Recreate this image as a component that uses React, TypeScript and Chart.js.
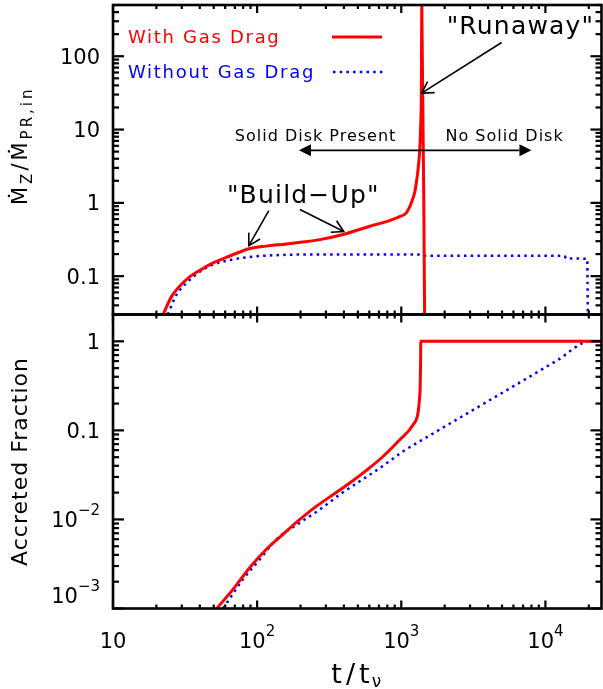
import { useEffect, useRef } from 'react';
import { Chart, registerables } from 'chart.js';
Chart.register(...registerables);

// ---------- data ----------
// Top panel: Mdot_Z / Mdot_PR,in vs t/t_nu
const tGasTop = [22.3, 25.5, 29, 34, 40, 49.5, 61, 75, 89, 116, 160, 200, 272, 395, 604, 800, 975, 1084, 1150, 1195, 1240, 1273, 1306, 1343, 1365, 1378, 1388, 1452];
const mdotGas = [0.03, 0.053, 0.073, 0.098, 0.12, 0.152, 0.18, 0.212, 0.238, 0.257, 0.275, 0.29, 0.315, 0.37, 0.48, 0.56, 0.65, 0.73, 0.9, 1.1, 1.4, 1.9, 2.8, 5.3, 12, 31, 500, 0.03];
const tNoGasTop = [24, 27.6, 32.4, 40, 49.5, 68, 89, 151, 300, 1300, 1450, 13500, 14000, 19500, 19700];
const mdotNoGas = [0.03, 0.056, 0.081, 0.115, 0.144, 0.169, 0.183, 0.195, 0.198, 0.198, 0.19, 0.19, 0.174, 0.172, 0.03];
// Bottom panel: accreted fraction vs t/t_nu
const tGasBot = [52.4, 68.2, 89, 116, 151, 198, 258, 337, 439, 573, 747, 975, 1205, 1305, 1342, 1352, 1362, 1366, 24500];
const fracGas = [0.001, 0.00165, 0.00289, 0.00462, 0.0068, 0.01, 0.0141, 0.019, 0.0257, 0.0356, 0.0509, 0.0783, 0.115, 0.156, 0.239, 0.3, 0.6, 1.0, 1.0];
const tNoGasBot = [58, 66.5, 80, 104.5, 136, 198, 272, 374, 515, 728, 1028, 1530, 3000, 6000, 12000, 20500, 24500];
const fracNoGas = [0.001, 0.00139, 0.00214, 0.00357, 0.00598, 0.0092, 0.0129, 0.019, 0.0268, 0.0388, 0.058, 0.0853, 0.162, 0.313, 0.607, 1.0, 1.0];

// axis ranges
const xRange = [10, 24500];
const topRange = [0.03, 500];
const botRange = [0.001, 2];

// tick labels
const xTickValues = [10, 100, 1000, 10000];
const xTickLabels = [['10', ''], ['10', '2'], ['10', '3'], ['10', '4']];
const topTickValues = [0.1, 1, 10, 100];
const topTickLabels = [['0.1', ''], ['1', ''], ['10', ''], ['100', '']];
const botTickValues = [0.001, 0.01, 0.1, 1];
const botTickLabels = [['10', '\u22123'], ['10', '\u22122'], ['0.1', ''], ['1', '']];

const seriesNames = ['With Gas Drag', 'Without Gas Drag'];

const FONT = "'DejaVu Sans', sans-serif";
const RED = '#ff0000';
const BLUE = '#0000ff';
const DOT = [2.5, 4.2];

const pts = (xs: number[], ys: number[]) => xs.map((x, i) => ({ x, y: ys[i] }));

function setFont(ctx: any, size: number, spacing = 0) {
  ctx.font = `${size}px ${FONT}`;
  ctx.letterSpacing = `${spacing}px`;
}

function logTickList(lo: number, hi: number) {
  const out: number[][] = [];
  let e = Math.floor(Math.log10(lo)) - 1;
  const e1 = Math.ceil(Math.log10(hi)) + 1;
  while (e <= e1) {
    const p = Math.pow(10, e);
    for (let m = 1; m < 10; m++) {
      const v = m * p;
      if (v >= lo * 0.9999 && v <= hi * 1.0001) out.push([v, m === 1 ? 1 : 0]);
    }
    e += 1;
  }
  return out;
}

function openArrow(ctx: any, x1: number, y1: number, x2: number, y2: number) {
  ctx.beginPath();
  ctx.moveTo(x1, y1);
  ctx.lineTo(x2, y2);
  ctx.stroke();
  const ang = Math.atan2(y1 - y2, x1 - x2);
  const H = 13, a = Math.PI / 6;
  ctx.beginPath();
  ctx.moveTo(x2 + H * Math.cos(ang - a), y2 + H * Math.sin(ang - a));
  ctx.lineTo(x2, y2);
  ctx.lineTo(x2 + H * Math.cos(ang + a), y2 + H * Math.sin(ang + a));
  ctx.stroke();
}

function doubleArrow(ctx: any, x1: number, x2: number, y: number) {
  const H = 12, W = 6;
  ctx.beginPath();
  ctx.moveTo(x1 + H, y);
  ctx.lineTo(x2 - H, y);
  ctx.stroke();
  ctx.beginPath();
  ctx.moveTo(x1, y); ctx.lineTo(x1 + H, y - W); ctx.lineTo(x1 + H, y + W); ctx.closePath();
  ctx.fill();
  ctx.beginPath();
  ctx.moveTo(x2, y); ctx.lineTo(x2 - H, y - W); ctx.lineTo(x2 - H, y + W); ctx.closePath();
  ctx.fill();
}

// Inward IDL-style tick marks on all four sides of each panel
const tickPlugin = {
  id: 'idlTicks',
  afterDraw(chart: any) {
    const ctx = chart.ctx;
    const xs = chart.scales.x;
    const left = xs.left, right = xs.right;
    const xt = logTickList(xRange[0], xRange[1]);
    const panels: any[] = [[chart.scales.yTop, topRange], [chart.scales.yBot, botRange]];
    ctx.save();
    ctx.globalAlpha = 1;
    ctx.globalCompositeOperation = 'source-over';
    ctx.fillStyle = '#000000';
    for (let k = 0; k < panels.length; k++) {
      const ys = panels[k][0];
      const rng = panels[k][1];
      for (let i = 0; i < xt.length; i++) {
        const px = xs.getPixelForValue(xt[i][0]);
        const len = xt[i][1] ? 8 : 4;
        ctx.fillRect(px - 1.1, ys.bottom - len, 2.2, len);
        ctx.fillRect(px - 1.1, ys.top, 2.2, len);
      }
      const yl = logTickList(rng[0], rng[1]);
      for (let i = 0; i < yl.length; i++) {
        const py = ys.getPixelForValue(yl[i][0]);
        const len = yl[i][1] ? 11 : 6;
        ctx.fillRect(left, py - 1.1, len, 2.2);
        ctx.fillRect(right - len, py - 1.1, len, 2.2);
      }
    }
    ctx.restore();
  },
};

const decorPlugin = {
  id: 'decor',
  afterDatasetsDraw(chart: any) {
    const ctx = chart.ctx;
    const xs = chart.scales.x, yt = chart.scales.yTop, yb = chart.scales.yBot;
    const L = xs.left, R = xs.right;
    ctx.save();
    ctx.setLineDash([]);
    ctx.strokeStyle = '#000';
    ctx.fillStyle = '#000';

    // frame
    ctx.lineWidth = 2.6;
    ctx.strokeRect(L, yt.top, R - L, yt.bottom - yt.top);
    ctx.strokeRect(L, yb.top, R - L, yb.bottom - yb.top);

    // tick labels
    const drawLabel = (base: string, exp: string, x: number, yc: number, align: string) => {
      setFont(ctx, 21);
      const wb = ctx.measureText(base).width;
      setFont(ctx, 15);
      const we = exp ? ctx.measureText(exp).width : 0;
      const start = align === 'right' ? x - wb - we : x - (wb + we) / 2;
      ctx.textAlign = 'left';
      ctx.textBaseline = 'alphabetic';
      setFont(ctx, 21);
      const bl = yc + 7.6;
      ctx.fillText(base, start, bl);
      if (exp) {
        setFont(ctx, 15);
        ctx.fillText(exp, start + wb, bl - 12);
      }
    };
    topTickValues.forEach((v, i) => drawLabel(topTickLabels[i][0], topTickLabels[i][1], L - 13, yt.getPixelForValue(v), 'right'));
    botTickValues.forEach((v, i) => drawLabel(botTickLabels[i][0], botTickLabels[i][1], L - 13, Math.min(yb.getPixelForValue(v), yb.bottom - 13), 'right'));
    xTickValues.forEach((v, i) => drawLabel(xTickLabels[i][0], xTickLabels[i][1], xs.getPixelForValue(v), yb.bottom + 31.5, 'center'));

    // bottom y title
    ctx.save();
    ctx.translate(27, (yb.top + yb.bottom) / 2);
    ctx.rotate(-Math.PI / 2);
    setFont(ctx, 22, 1);
    ctx.textAlign = 'center';
    ctx.textBaseline = 'alphabetic';
    ctx.fillText('Accreted Fraction', 0, 0);
    ctx.restore();

    // top y title: Mdot_Z / Mdot_PR,in
    ctx.save();
    const pieces: any[] = [
      ['\u1E40', 21, 0, 3], ['Z', 15, 5, 3], ['/', 21, 0, 3], ['\u1E40', 21, 0, 3], ['PR,in', 15, 5, 3],
    ];
    let total = 0;
    const widths = pieces.map((p: any) => { setFont(ctx, p[1], p[3]); const w = ctx.measureText(p[0]).width; total += w; return w; });
    ctx.translate(27, (yt.top + yt.bottom) / 2 - 14);
    ctx.rotate(-Math.PI / 2);
    ctx.textAlign = 'left';
    ctx.textBaseline = 'alphabetic';
    let pos = -total / 2;
    pieces.forEach((p: any, i: number) => {
      setFont(ctx, p[1], p[3]);
      ctx.fillText(p[0], pos, p[2]);
      pos += widths[i];
    });
    ctx.restore();

    // x title t/t_nu
    setFont(ctx, 27, 4);
    const wt = ctx.measureText('t/t').width;
    setFont(ctx, 17, 0);
    const wn = ctx.measureText('\u03BD').width;
    const xStart = (L + R) / 2 - (wt + wn) / 2;
    ctx.textAlign = 'left';
    setFont(ctx, 27, 4);
    ctx.fillText('t/t', xStart, 683);
    setFont(ctx, 17, 0);
    ctx.fillText('\u03BD', xStart + wt - 2, 687);

    // legend
    const lx = L + 15;
    setFont(ctx, 18, 1.7);
    ctx.fillStyle = RED;
    ctx.fillText(seriesNames[0], lx, yt.top + 38);
    ctx.fillStyle = BLUE;
    ctx.fillText(seriesNames[1], lx, yt.top + 73);
    ctx.lineWidth = 3;
    ctx.strokeStyle = RED;
    ctx.beginPath(); ctx.moveTo(L + 219, yt.top + 32); ctx.lineTo(L + 269, yt.top + 32); ctx.stroke();
    ctx.strokeStyle = BLUE;
    ctx.lineWidth = 2.5;
    ctx.setLineDash(DOT);
    ctx.beginPath(); ctx.moveTo(L + 220, yt.top + 67); ctx.lineTo(L + 270, yt.top + 67); ctx.stroke();
    ctx.setLineDash([]);

    // annotations (data coordinates on top panel)
    const X = (v: number) => xs.getPixelForValue(v);
    const Y = (v: number) => yt.getPixelForValue(v);
    ctx.fillStyle = '#000';
    ctx.strokeStyle = '#000';
    ctx.lineWidth = 1.6;
    setFont(ctx, 25, 1.2);
    ctx.fillText('"Runaway"', X(2065), Y(201));
    openArrow(ctx, X(4966), Y(154), X(1384), Y(31.4));
    ctx.fillText('"Build\u2212Up"', X(61.7), Y(1.0));
    openArrow(ctx, X(120.5), Y(0.785), X(87.6), Y(0.261));
    openArrow(ctx, X(198), Y(0.81), X(399), Y(0.406));
    setFont(ctx, 16, 1);
    ctx.fillText('Solid Disk Present', X(70), Y(6.92));
    ctx.fillText('No Solid Disk', X(2024), Y(6.92));
    ctx.lineWidth = 1.8;
    doubleArrow(ctx, X(195), X(8000), Y(5.2));

    setFont(ctx, 16, 0);
    ctx.restore();
  },
};

export default function App() {
  const ref = useRef<HTMLCanvasElement>(null);
  useEffect(() => {
    const common = { pointRadius: 0, cubicInterpolationMode: 'monotone', fill: false };
    const axisCommon = { ticks: { display: false }, grid: { display: false }, border: { display: false } };
    const chart = new Chart(ref.current as any, {
      type: 'line',
      data: {
        datasets: [
          { ...common, label: seriesNames[0], data: pts(tGasTop, mdotGas), borderColor: RED, borderWidth: 3, xAxisID: 'x', yAxisID: 'yTop' },
          { ...common, label: seriesNames[1], data: pts(tNoGasTop, mdotNoGas), borderColor: BLUE, borderWidth: 2.5, borderDash: DOT, xAxisID: 'x', yAxisID: 'yTop' },
          { ...common, label: seriesNames[0], data: pts(tGasBot, fracGas), borderColor: RED, borderWidth: 3, xAxisID: 'x', yAxisID: 'yBot' },
          { ...common, label: seriesNames[1], data: pts(tNoGasBot, fracNoGas), borderColor: BLUE, borderWidth: 2.5, borderDash: DOT, xAxisID: 'x', yAxisID: 'yBot' },
        ],
      } as any,
      options: {
        responsive: false,
        animation: false,
        layout: { padding: { top: 5, right: 1.5, left: 0, bottom: 0 } },
        plugins: { legend: { display: false }, tooltip: { enabled: false } },
        scales: {
          x: {
            type: 'logarithmic', min: xRange[0], max: xRange[1], position: 'bottom', ...axisCommon,
            afterFit: (s: any) => { s.height = 80.5; },
          },
          yBot: {
            type: 'logarithmic', min: botRange[0], max: botRange[1], position: 'left', stack: 'v', stackWeight: 294, ...axisCommon,
            afterFit: (s: any) => { s.width = 113; },
          },
          yTop: {
            type: 'logarithmic', min: topRange[0], max: topRange[1], position: 'left', stack: 'v', stackWeight: 309.5, ...axisCommon,
            afterFit: (s: any) => { s.width = 113; },
          },
        },
      } as any,
      plugins: [decorPlugin, tickPlugin],
    });
    return () => chart.destroy();
  }, []);
  return (
    <div style={{ position: 'fixed', left: 0, top: 0, width: 603, height: 689, background: '#fff' }}>
      <canvas ref={ref} width={603} height={689} />
    </div>
  );
}
